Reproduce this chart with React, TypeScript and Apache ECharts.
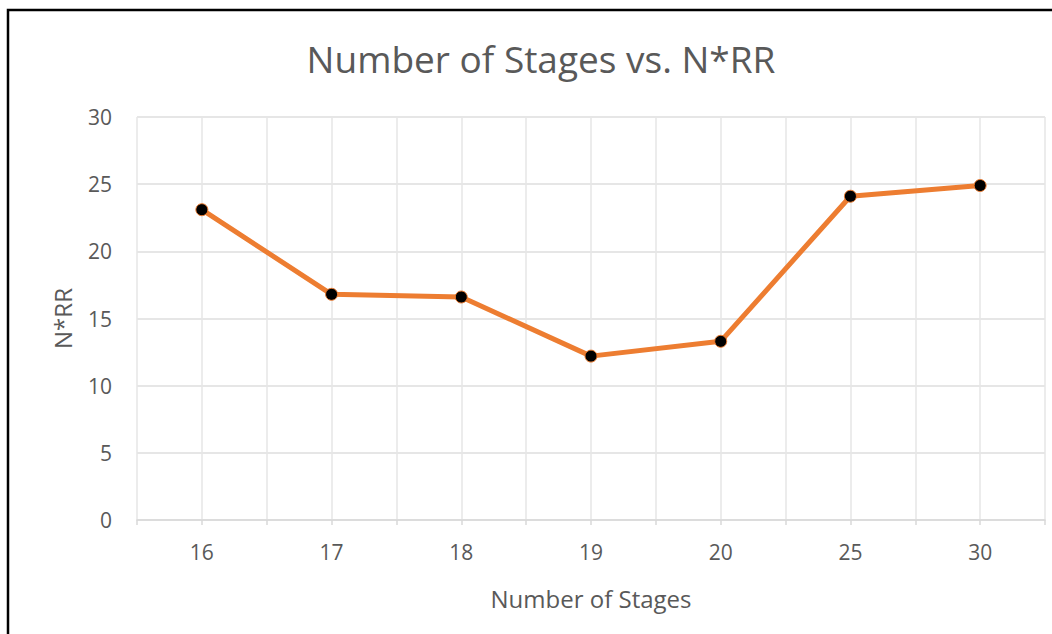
import React, { useEffect, useRef } from "react";
import * as echarts from "echarts";

const stages = ["16", "17", "18", "19", "20", "25", "30"];
const nrr = [23.1, 16.8, 16.6, 12.2, 13.3, 24.1, 24.9];
const yTicks = { min: 0, max: 30, interval: 5 };

const FONT = "'Open Sans', 'Noto Sans', sans-serif";
const TEXT = "#595959";

export default function App() {
  const ref = useRef<HTMLDivElement>(null);
  useEffect(() => {
    if (!ref.current) return;
    const chart = echarts.init(ref.current, undefined, { renderer: "svg" });
    const points = nrr.map((v, i) => [i, v]);
    chart.setOption({
      animation: false,
      backgroundColor: "#ffffff",
      textStyle: { fontFamily: FONT },
      title: {
        text: "Number of Stages vs. N*RR",
        left: 536,
        textAlign: "center",
        top: 35,
        textStyle: { fontFamily: FONT, fontSize: 37, fontWeight: "normal", color: TEXT },
      },
      grid: { left: 137, right: 7, top: 117, bottom: 114 },
      xAxis: {
        type: "value",
        min: -0.5,
        max: 6.5,
        interval: 0.5,
        name: "Number of Stages",
        nameLocation: "middle",
        nameGap: 66,
        nameTextStyle: { fontFamily: FONT, fontSize: 24, color: TEXT },
        axisLine: { show: true, lineStyle: { color: "#D9D9D9", width: 1.5 } },
        axisTick: { show: true, length: 5, lineStyle: { color: "#D9D9D9", width: 1.5 } },
        splitLine: { show: true, lineStyle: { color: "#E6E6E6", width: 1.5 } },
        axisLabel: {
          fontFamily: FONT,
          fontSize: 21,
          color: TEXT,
          margin: 21,
          showMinLabel: true,
          showMaxLabel: true,
          formatter: (v: number) => {
            const r = Math.round(v);
            return Math.abs(v - r) < 1e-6 && r >= 0 && r < stages.length ? stages[r] : "";
          },
        },
      },
      yAxis: {
        type: "value",
        min: yTicks.min,
        max: yTicks.max,
        interval: yTicks.interval,
        name: "N*RR",
        nameLocation: "middle",
        nameGap: 63,
        nameTextStyle: { fontFamily: FONT, fontSize: 24, color: TEXT },
        axisLine: { show: false },
        axisTick: { show: false },
        splitLine: { show: true, lineStyle: { color: "#DEDEDE", width: 1.5 } },
        axisLabel: { fontFamily: FONT, fontSize: 21, color: TEXT, margin: 25 },
      },
      series: [
        {
          type: "line",
          data: points,
          lineStyle: { color: "#ED7D31", width: 5 },
          symbol: "circle",
          symbolSize: 12,
          itemStyle: { color: "#000000", borderColor: "#ED7D31", borderWidth: 1 },
        },
      ],
      graphic: [
        {
          type: "rect",
          shape: { x: 8, y: 10, width: 1100, height: 700 },
          style: { fill: "none", stroke: "#000000", lineWidth: 2.5 },
          silent: true,
        },
      ],
    });
    return () => chart.dispose();
  }, []);
  return (
    <div
      ref={ref}
      style={{ position: "absolute", left: 0, top: 0, width: 1052, height: 634 }}
    />
  );
}
